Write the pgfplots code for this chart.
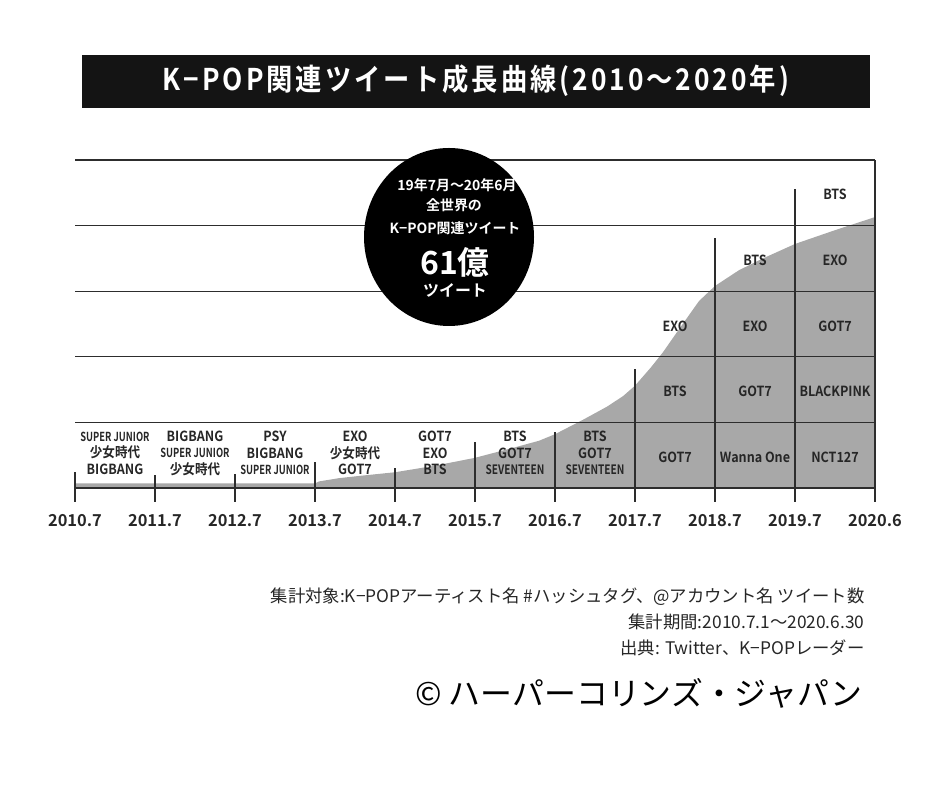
\documentclass[border=0pt]{standalone}
\usepackage{fontspec}
\setmainfont{Noto Sans CJK JP}[BoldFont={Noto Sans CJK JP Bold}]
\usepackage{pgfplots}
\pgfplotsset{compat=1.18}
\definecolor{areagray}{RGB}{168,168,168}
\definecolor{gridc}{RGB}{45,45,45}
\definecolor{txt}{RGB}{38,38,38}
\newcommand\cellfont{\fontsize{14}{16.5}\selectfont\bfseries\addfontfeature{FakeStretch=0.9}}
\newcommand\narrow[1]{{\fontsize{13}{16.5}\selectfont\addfontfeature{FakeStretch=0.78}#1}}
\newcommand\sj{{\fontsize{12.5}{16.5}\selectfont\addfontfeature{FakeStretch=0.75}SUPER JUNIOR}}
\begin{document}
\begin{tikzpicture}
\begin{scope}[x=1bp,y=1bp]
\path[use as bounding box] (0,0) rectangle (940,788);
% title
\fill[black!92] (82,680) rectangle (870,733);
\node[white, font=\fontsize{30}{32}\selectfont\bfseries\addfontfeature{FakeStretch=0.88,LetterSpace=10}] at (476,707) {K−POP関連ツイート成長曲線(2010〜2020年)};
\end{scope}
\begin{axis}[
  at={(75bp,300bp)}, anchor=south west,
  x=80bp, y=65.6bp,
  xmin=0, xmax=10, ymin=0, ymax=5,
  clip=false,
  axis line style={draw=none},
  major tick length=0pt,
  ytick=\empty,
  xtick={0,1,2,3,4,5,6,7,8,9,10},
  xticklabels={2010.7,2011.7,2012.7,2013.7,2014.7,2015.7,2016.7,2017.7,2018.7,2019.7,2020.6},
  xticklabel style={anchor=center, yshift=-33bp, font=\fontsize{16.5}{18}\selectfont\bfseries, text=txt},
]
\addplot[fill=areagray, draw=none] coordinates {
 (0,0.07) (3.0,0.07) (3.05,0.1) (3.3,0.15) (3.6,0.19) (4,0.24) (4.5,0.34) (5,0.46)
 (5.5,0.62) (5.8,0.72) (6,0.82) (6.35,1.04) (6.65,1.24) (6.85,1.4) (7,1.56) (7.2,1.84)
 (7.35,2.07) (7.55,2.42) (7.8,2.85) (8,3.08) (8.3,3.32) (8.6,3.5) (9,3.72) (9.5,3.93) (10,4.13)
} \closedcycle;
\pgfplotsinvokeforeach{1,2,3,4,5}{\draw[gridc, line width=1.3bp] (axis cs:0,#1) -- (axis cs:10,#1);}
\draw[gridc, line width=1.3bp] (axis cs:0,-0.21) -- (axis cs:0,0.24);
\draw[gridc, line width=1.3bp] (axis cs:1,-0.21) -- (axis cs:1,0.2);
\draw[gridc, line width=1.3bp] (axis cs:2,-0.21) -- (axis cs:2,0.22);
\draw[gridc, line width=1.3bp] (axis cs:3,-0.21) -- (axis cs:3,0.4);
\draw[gridc, line width=1.3bp] (axis cs:4,-0.21) -- (axis cs:4,0.3);
\draw[gridc, line width=1.3bp] (axis cs:5,-0.21) -- (axis cs:5,0.7);
\draw[gridc, line width=1.3bp] (axis cs:6,-0.21) -- (axis cs:6,0.85);
\draw[gridc, line width=1.3bp] (axis cs:7,-0.21) -- (axis cs:7,1.82);
\draw[gridc, line width=1.3bp] (axis cs:8,-0.21) -- (axis cs:8,3.81);
\draw[gridc, line width=1.3bp] (axis cs:9,-0.21) -- (axis cs:9,4.56);
\draw[gridc, line width=1.3bp] (axis cs:10,-0.21) -- (axis cs:10,5);
\draw[gridc, line width=2.4bp] (axis cs:0,0) -- (axis cs:10,0);
% bottom row labels
\node[align=center, font=\cellfont, text=txt] at (axis cs:0.5,0.53) {\sj\\少女時代\\BIGBANG};
\node[align=center, font=\cellfont, text=txt] at (axis cs:1.5,0.53) {BIGBANG\\\sj\\少女時代};
\node[align=center, font=\cellfont, text=txt] at (axis cs:2.5,0.53) {PSY\\BIGBANG\\\sj};
\node[align=center, font=\cellfont, text=txt] at (axis cs:3.5,0.53) {EXO\\少女時代\\GOT7};
\node[align=center, font=\cellfont, text=txt] at (axis cs:4.5,0.53) {GOT7\\EXO\\BTS};
\node[align=center, font=\cellfont, text=txt] at (axis cs:5.5,0.53) {BTS\\GOT7\\\narrow{SEVENTEEN}};
\node[align=center, font=\cellfont, text=txt] at (axis cs:6.5,0.53) {BTS\\GOT7\\\narrow{SEVENTEEN}};
% stacked labels
\node[font=\cellfont, text=txt] at (axis cs:7.5,0.47) {GOT7};
\node[font=\cellfont, text=txt] at (axis cs:7.5,1.47) {BTS};
\node[font=\cellfont, text=txt] at (axis cs:7.5,2.47) {EXO};
\node[font=\cellfont, text=txt] at (axis cs:8.5,0.47) {Wanna One};
\node[font=\cellfont, text=txt] at (axis cs:8.5,1.47) {GOT7};
\node[font=\cellfont, text=txt] at (axis cs:8.5,2.47) {EXO};
\node[font=\cellfont, text=txt] at (axis cs:8.5,3.47) {BTS};
\node[font=\cellfont, text=txt] at (axis cs:9.5,0.47) {NCT127};
\node[font=\cellfont, text=txt] at (axis cs:9.5,1.47) {BLACKPINK};
\node[font=\cellfont, text=txt] at (axis cs:9.5,2.47) {GOT7};
\node[font=\cellfont, text=txt] at (axis cs:9.5,3.47) {EXO};
\node[font=\cellfont, text=txt] at (axis cs:9.5,4.47) {BTS};
\end{axis}
\begin{scope}[x=1bp,y=1bp]
% circle
\fill[black] (449,551) ellipse [x radius=85, y radius=89];
\node[white, font=\fontsize{14}{16}\selectfont\bfseries] at (457,603) {19年7月〜20年6月};
\node[white, font=\fontsize{14}{16}\selectfont\bfseries] at (454,583) {全世界の};
\node[white, font=\fontsize{14}{16}\selectfont\bfseries] at (455,560) {K−POP関連ツイート};
\node[white, font=\fontsize{32}{34}\selectfont\bfseries] at (455,526) {61億};
\node[white, font=\fontsize{16}{18}\selectfont\bfseries] at (455,498) {ツイート};
% footer
\node[anchor=east, text=txt, font=\fontsize{17.4}{19}\selectfont] at (868,191) {集計対象:K−POPアーティスト名 \#ハッシュタグ、@アカウント名 ツイート数};
\node[anchor=east, text=txt, font=\fontsize{17.4}{19}\selectfont] at (868,166) {集計期間:2010.7.1〜2020.6.30};
\node[anchor=east, text=txt, font=\fontsize{17.4}{19}\selectfont] at (868,140) {出典: Twitter、K−POPレーダー};
\node[anchor=east, text=black, font=\fontsize{32}{34}\selectfont] at (866,95) {© ハーパーコリンズ・ジャパン};
\end{scope}
\end{tikzpicture}
\end{document}
